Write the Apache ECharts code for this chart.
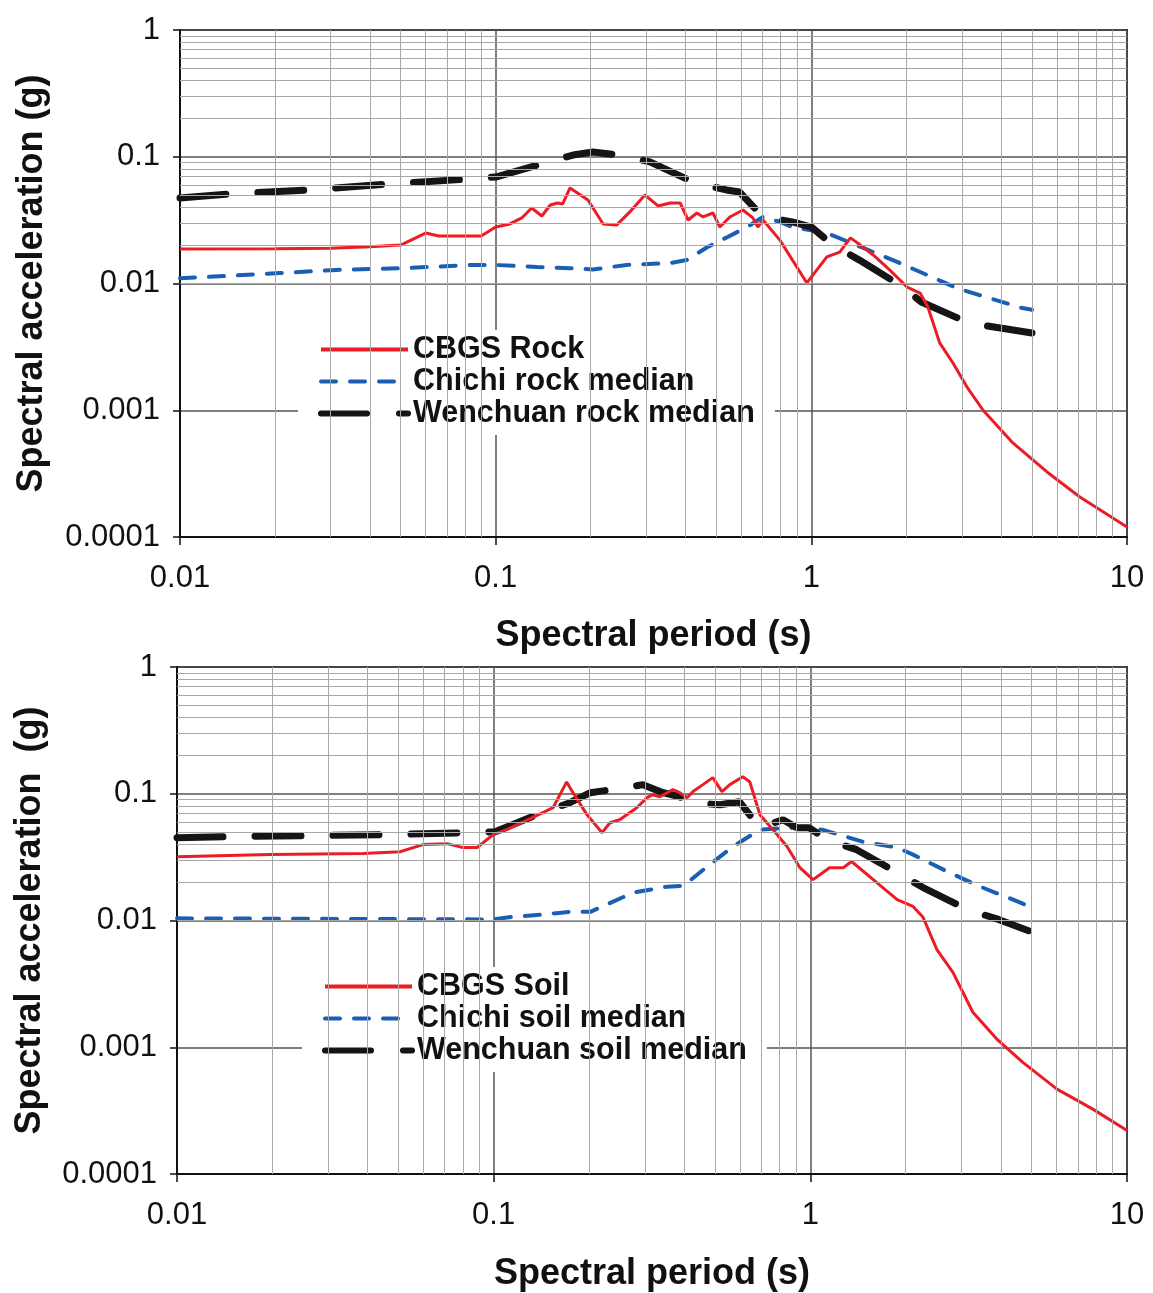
<!DOCTYPE html>
<html><head><meta charset="utf-8">
<script src="https://cdn.jsdelivr.net/npm/echarts@6/dist/echarts.min.js"></script>
<style>html,body{margin:0;padding:0;background:#fff}#c{width:1153px;height:1293px}</style>
</head><body><div id="c"></div><script>
// ---- tick labels ----
const xTickLabels = ['0.01', '0.1', '1', '10'];          // decades 10^-2 .. 10^1
const yTickLabels = ['0.0001', '0.001', '0.01', '0.1', '1']; // decades 10^-4 .. 10^0
const xDecades = [0.01, 0.1, 1];
const yDecades = [0.0001, 0.001, 0.01, 0.1];
const minorMult = [2, 3, 4, 5, 6, 7, 8, 9];

// ---- Top panel: rock ----
const rockCbgsT  = [0.01, 0.02, 0.03, 0.04, 0.05, 0.06, 0.066, 0.09, 0.1, 0.111, 0.121, 0.13, 0.14, 0.149, 0.157, 0.163, 0.172, 0.196, 0.219, 0.242, 0.266, 0.297, 0.327, 0.357, 0.384, 0.407, 0.434, 0.454, 0.488, 0.513, 0.552, 0.607, 0.653, 0.677, 0.703, 0.795, 0.968, 1.12, 1.23, 1.33, 1.43, 1.57, 1.77, 2.01, 2.21, 2.34, 2.55, 2.81, 3.11, 3.5, 4.35, 5.58, 7.09, 10];
const rockCbgsSA = [0.0187, 0.0188, 0.019, 0.0195, 0.0201, 0.025, 0.0237, 0.0237, 0.0279, 0.0295, 0.0329, 0.0394, 0.0341, 0.0416, 0.0432, 0.0424, 0.0567, 0.0456, 0.0295, 0.029, 0.0367, 0.0499, 0.0409, 0.0432, 0.0432, 0.0317, 0.036, 0.0335, 0.036, 0.0279, 0.0335, 0.038, 0.0329, 0.0279, 0.0317, 0.022, 0.0101, 0.0162, 0.0177, 0.0229, 0.0201, 0.0168, 0.0128, 0.00938, 0.00841, 0.00653, 0.0034, 0.00236, 0.00153, 0.001, 0.000552, 0.000326, 0.000207, 0.00012];

const rockChichiT  = [0.01, 0.0144, 0.0207, 0.0314, 0.0509, 0.0829, 0.1, 0.135, 0.172, 0.203, 0.26, 0.357, 0.403, 0.469, 0.543, 0.626, 0.703, 0.795, 0.87, 1.12, 1.46, 1.87, 2.25, 2.89, 3.41, 4.66, 5];
const rockChichiSA = [0.011, 0.0115, 0.0121, 0.0128, 0.0132, 0.014, 0.014, 0.0135, 0.0132, 0.0129, 0.014, 0.0145, 0.0153, 0.0194, 0.0233, 0.0279, 0.0335, 0.0306, 0.0279, 0.025, 0.0191, 0.0148, 0.0121, 0.0092, 0.0081, 0.0064, 0.0062];

const rockWenT  = [0.01, 0.0144, 0.0258, 0.0463, 0.0829, 0.1, 0.143, 0.176, 0.203, 0.247, 0.308, 0.422, 0.538, 0.592, 0.703, 0.87, 1.0, 1.17, 1.42, 1.95, 2.23, 3.16, 3.97, 5];
const rockWenSA = [0.0473, 0.0508, 0.0547, 0.061, 0.0668, 0.0692, 0.0893, 0.1032, 0.109, 0.1032, 0.091, 0.0632, 0.0547, 0.0527, 0.0335, 0.0306, 0.0279, 0.0201, 0.0153, 0.0094, 0.00714, 0.00488, 0.00445, 0.00407];

// ---- Bottom panel: soil ----
const soilCbgsT  = [0.01, 0.0197, 0.0387, 0.0506, 0.0598, 0.0712, 0.08, 0.0886, 0.0995, 0.11, 0.143, 0.154, 0.17, 0.178, 0.197, 0.22, 0.233, 0.25, 0.283, 0.305, 0.318, 0.335, 0.368, 0.387, 0.408, 0.426, 0.458, 0.492, 0.526, 0.557, 0.612, 0.644, 0.693, 0.762, 0.844, 0.927, 1.02, 1.15, 1.27, 1.35, 1.58, 1.88, 2.11, 2.27, 2.51, 2.82, 3.26, 3.88, 4.69, 6.01, 7.8, 10];
const soilCbgsSA = [0.0319, 0.0331, 0.0337, 0.0349, 0.0397, 0.0404, 0.0376, 0.0376, 0.0475, 0.0521, 0.0709, 0.0776, 0.124, 0.102, 0.0684, 0.0493, 0.0591, 0.0624, 0.0776, 0.0931, 0.0982, 0.0947, 0.108, 0.102, 0.0931, 0.104, 0.118, 0.134, 0.104, 0.118, 0.136, 0.124, 0.0684, 0.0521, 0.0383, 0.0261, 0.021, 0.0261, 0.0261, 0.0292, 0.021, 0.0146, 0.0129, 0.0106, 0.0059, 0.0039, 0.00189, 0.00116, 0.00076, 0.000467, 0.000325, 0.00022];

const soilChichiT  = [0.01, 0.0903, 0.0995, 0.115, 0.14, 0.174, 0.202, 0.276, 0.353, 0.398, 0.472, 0.57, 0.693, 0.883, 1.09, 1.46, 1.88, 2.11, 2.71, 3.44, 4.37, 5];
const soilChichiSA = [0.0104, 0.0102, 0.0102, 0.0107, 0.0111, 0.0117, 0.0117, 0.0166, 0.0185, 0.0188, 0.0266, 0.0383, 0.0521, 0.054, 0.0521, 0.0419, 0.0376, 0.0331, 0.0243, 0.0185, 0.0146, 0.0127];

const soilWenT  = [0.01, 0.0144, 0.0257, 0.046, 0.0812, 0.101, 0.142, 0.174, 0.202, 0.245, 0.296, 0.343, 0.387, 0.416, 0.518, 0.597, 0.693, 0.82, 0.907, 0.99, 1.13, 1.4, 1.88, 2.27, 3.13, 3.93, 4.95];
const soilWenSA = [0.045, 0.0459, 0.0467, 0.0475, 0.0493, 0.0502, 0.0709, 0.085, 0.102, 0.109, 0.118, 0.102, 0.0947, 0.085, 0.0819, 0.0865, 0.054, 0.0624, 0.054, 0.054, 0.0434, 0.0362, 0.0239, 0.0182, 0.0122, 0.0102, 0.0082];

const topNames = ['CBGS Rock', 'Chichi rock median', 'Wenchuan rock median'];
const botNames = ['CBGS Soil', 'Chichi soil median', 'Wenchuan soil median'];

// ---- helpers / styles ----
const FONT = 'Liberation Sans, Arial, Helvetica, sans-serif';
const RED = '#ec1c24', BLUE = '#1b5fb5', BLACK = '#151515';
const pairs = (xs, ys) => xs.map((x, i) => [x, ys[i]]);
const xMinor = [], yMinor = [];
xDecades.forEach(d => minorMult.forEach(m => xMinor.push(+(d * m).toPrecision(3))));
yDecades.forEach(d => minorMult.forEach(m => yMinor.push(+(d * m).toPrecision(3))));
const xFmt = v => xTickLabels[Math.round(Math.log10(v)) + 2];
const yFmt = v => yTickLabels[Math.round(Math.log10(v)) + 4];

function xAxisCfg(gi, gap) {
  return {
    type: 'log', logBase: 10, min: 0.01, max: 10, gridIndex: gi,
    axisLine: { show: true, onZero: false, lineStyle: { color: '#111', width: 2 } },
    axisTick: { show: true, length: 8, lineStyle: { color: '#111', width: 1.5 } },
    splitLine: { show: true, lineStyle: { color: '#555', width: 1.5 } },
    axisLabel: { formatter: xFmt, fontSize: 31, color: '#111', margin: 26, fontFamily: FONT },
    name: 'Spectral period (s)', nameLocation: 'middle', nameGap: gap,
    nameTextStyle: { fontSize: 36, fontWeight: 'bold', color: '#111', fontFamily: FONT }
  };
}
function yAxisCfg(gi, name, gap) {
  return {
    type: 'log', logBase: 10, min: 0.0001, max: 1, gridIndex: gi,
    axisLine: { show: true, onZero: false, lineStyle: { color: '#111', width: 2 } },
    axisTick: { show: true, length: 7, lineStyle: { color: '#111', width: 1.5 } },
    splitLine: { show: true, lineStyle: { color: '#555', width: 1.5 } },
    axisLabel: { formatter: yFmt, fontSize: 31, color: '#111', margin: 20, fontFamily: FONT },
    name: name, nameLocation: 'middle', nameGap: gap,
    nameTextStyle: { fontSize: 36, fontWeight: 'bold', color: '#111', fontFamily: FONT }
  };
}
function gridSeries(gi) {
  return {
    type: 'line', name: 'grid' + gi, xAxisIndex: gi, yAxisIndex: gi, data: [], z: 1, silent: true,
    markLine: {
      silent: true, symbol: ['none', 'none'], animation: false,
      label: { show: false },
      lineStyle: { color: '#a8a8a8', width: 1, type: 'solid' },
      emphasis: { disabled: true },
      data: xMinor.map(v => ({ xAxis: v })).concat(yMinor.map(v => ({ yAxis: v })))
    }
  };
}
function curves(gi, names, a, b, c) {
  return [
    { type: 'line', name: names[0], xAxisIndex: gi, yAxisIndex: gi, data: a, showSymbol: false, symbol: 'none', z: 4,
      lineStyle: { color: RED, width: 3 }, itemStyle: { color: RED } },
    { type: 'line', name: names[1], xAxisIndex: gi, yAxisIndex: gi, data: b, showSymbol: false, symbol: 'none', z: 3,
      lineStyle: { color: BLUE, width: 4, type: [15, 14], cap: 'round' }, itemStyle: { color: BLUE } },
    { type: 'line', name: names[2], xAxisIndex: gi, yAxisIndex: gi, data: c, showSymbol: false, symbol: 'none', z: 3,
      lineStyle: { color: BLACK, width: 7, type: [46, 32], cap: 'round' }, itemStyle: { color: BLACK } }
  ];
}
const hideSym = { color: 'rgba(0,0,0,0)', borderColor: 'rgba(0,0,0,0)', borderWidth: 0, opacity: 0 };
function legendCfg(names, left, top) {
  return {
    orient: 'vertical', left: left, top: top, selectedMode: false,
    backgroundColor: '#ffffff', padding: [4, 20, 6, 20],
    itemWidth: 87, itemHeight: 26, itemGap: 1,
    textStyle: { fontSize: 30.5, fontWeight: 'bold', color: '#111', fontFamily: FONT, lineHeight: 30 },
    data: [
      { name: names[0], lineStyle: { width: 4 }, itemStyle: hideSym },
      { name: names[1], lineStyle: { width: 4 }, itemStyle: hideSym },
      { name: names[2], lineStyle: { width: 6 }, itemStyle: hideSym }
    ]
  };
}

const chart = echarts.init(document.getElementById('c'), null, { renderer: 'canvas' });
chart.setOption({
  animation: false,
  backgroundColor: '#ffffff',
  grid: [
    { left: 180, top: 30, width: 947, height: 507, show: true, borderColor: '#222', borderWidth: 2, containLabel: false },
    { left: 177, top: 667, width: 950, height: 508, show: true, borderColor: '#222', borderWidth: 2, containLabel: false }
  ],
  xAxis: [xAxisCfg(0, 81), xAxisCfg(1, 82)],
  yAxis: [yAxisCfg(0, 'Spectral acceleration (g)', 130), yAxisCfg(1, 'Spectral acceleration  (g)', 129)],
  legend: [legendCfg(topNames, 298, 330), legendCfg(botNames, 302, 967)],
  series: [
    gridSeries(0), gridSeries(1),
    ...curves(0, topNames, pairs(rockCbgsT, rockCbgsSA), pairs(rockChichiT, rockChichiSA), pairs(rockWenT, rockWenSA)),
    ...curves(1, botNames, pairs(soilCbgsT, soilCbgsSA), pairs(soilChichiT, soilChichiSA), pairs(soilWenT, soilWenSA))
  ]
});
</script></body></html>
